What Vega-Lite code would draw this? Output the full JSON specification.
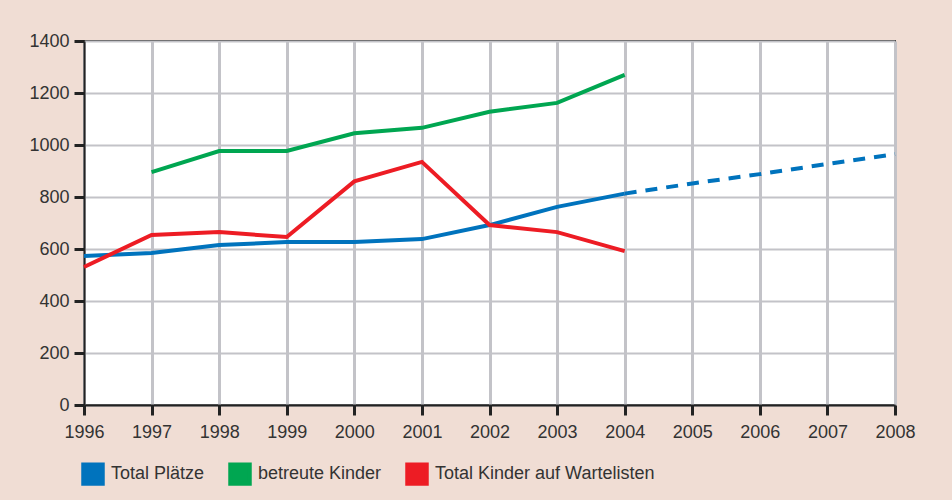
{
  "$schema": "https://vega.github.io/schema/vega-lite/v6.json",
  "width": 811,
  "height": 364,
  "autosize": {"type": "none"},
  "padding": {"left": 84, "top": 41, "right": 57, "bottom": 95},
  "background": "#f0ddd4",
  "view": {"fill": "white", "stroke": "#222222", "strokeWidth": 2},
  "config": {
    "font": "Liberation Sans",
    "axis": {"labelFontSize": 18, "labelColor": "#333333", "domainColor": "#222222", "domainWidth": 2, "tickColor": "#222222", "tickWidth": 3, "tickSize": 10, "gridColor": "#c3c3c8", "labelFlush": false, "labelOverlap": false}
  },
  "datasets": {
    "main": [
      {"year": 1996, "series": "Total Plätze", "value": 573},
      {"year": 1997, "series": "Total Plätze", "value": 585},
      {"year": 1998, "series": "Total Plätze", "value": 615},
      {"year": 1999, "series": "Total Plätze", "value": 627},
      {"year": 2000, "series": "Total Plätze", "value": 627},
      {"year": 2001, "series": "Total Plätze", "value": 638},
      {"year": 2002, "series": "Total Plätze", "value": 692},
      {"year": 2003, "series": "Total Plätze", "value": 762},
      {"year": 2004, "series": "Total Plätze", "value": 813},
      {"year": 1997, "series": "betreute Kinder", "value": 896},
      {"year": 1998, "series": "betreute Kinder", "value": 977},
      {"year": 1999, "series": "betreute Kinder", "value": 977},
      {"year": 2000, "series": "betreute Kinder", "value": 1045},
      {"year": 2001, "series": "betreute Kinder", "value": 1066},
      {"year": 2002, "series": "betreute Kinder", "value": 1128},
      {"year": 2003, "series": "betreute Kinder", "value": 1162},
      {"year": 2004, "series": "betreute Kinder", "value": 1270},
      {"year": 1996, "series": "Total Kinder auf Wartelisten", "value": 531},
      {"year": 1997, "series": "Total Kinder auf Wartelisten", "value": 654},
      {"year": 1998, "series": "Total Kinder auf Wartelisten", "value": 665},
      {"year": 1999, "series": "Total Kinder auf Wartelisten", "value": 646},
      {"year": 2000, "series": "Total Kinder auf Wartelisten", "value": 860},
      {"year": 2001, "series": "Total Kinder auf Wartelisten", "value": 935},
      {"year": 2002, "series": "Total Kinder auf Wartelisten", "value": 692},
      {"year": 2003, "series": "Total Kinder auf Wartelisten", "value": 665},
      {"year": 2004, "series": "Total Kinder auf Wartelisten", "value": 592}
    ],
    "forecast": [
      {"year": 2004, "value": 813},
      {"year": 2005, "value": 852},
      {"year": 2006, "value": 888},
      {"year": 2007, "value": 927},
      {"year": 2008, "value": 965}
    ]
  },
  "layer": [
    {
      "data": {"name": "main"},
      "mark": {"type": "point", "shape": "square", "filled": true, "size": 0, "stroke": "#222222", "strokeWidth": 1.5},
      "encoding": {
        "x": {"field": "year", "type": "quantitative", "scale": {"domain": [1996, 2008], "nice": false, "zero": false},
          "axis": {"values": [1996,1997,1998,1999,2000,2001,2002,2003,2004,2005,2006,2007,2008], "format": "d", "title": null, "gridWidth": 3, "labelPadding": 8, "labelFontSize": 18}},
        "y": {"field": "value", "type": "quantitative", "scale": {"domain": [0, 1400], "nice": false},
          "axis": {"values": [0,200,400,600,800,1000,1200,1400], "format": "d", "title": null, "gridWidth": 2, "labelPadding": 5, "labelFontSize": 18}},
        "color": {
          "field": "series", "type": "nominal",
          "scale": {"domain": ["Total Plätze", "betreute Kinder", "Total Kinder auf Wartelisten"], "range": ["#0073bd", "#00a651", "#ed1c24"]},
          "legend": {
            "title": null, "orient": "none", "direction": "horizontal", "legendX": -3, "legendY": 421,
            "symbolType": "square", "symbolSize": 380, "labelFontSize": 18, "labelColor": "#333333", "columnPadding": 17, "labelOffset": 6, "labelLimit": 400,
            "symbolStrokeColor": "#222222", "symbolStrokeWidth": 1.5, "symbolOpacity": 1,
            "encode": {"symbols": {"update": {"fill": {"scale": "color", "field": "value"}, "stroke": {"value": "#222222"}, "strokeWidth": {"value": 1.5}, "opacity": {"value": 1}}}}
          }
        }
      }
    },
    {
      "data": {"name": "forecast"},
      "mark": {"type": "line", "color": "#0073bd", "strokeWidth": 4, "strokeDash": [12, 9], "strokeCap": "butt"},
      "encoding": {
        "x": {"field": "year", "type": "quantitative"},
        "y": {"field": "value", "type": "quantitative"}
      }
    },
    {
      "data": {"name": "main"},
      "mark": {"type": "line", "strokeCap": "butt", "strokeJoin": "miter"},
      "encoding": {
        "x": {"field": "year", "type": "quantitative"},
        "y": {"field": "value", "type": "quantitative"},
        "color": {"field": "series", "type": "nominal"},
        "strokeWidth": {
          "field": "series", "type": "nominal",
          "scale": {"domain": ["Total Plätze", "betreute Kinder", "Total Kinder auf Wartelisten"], "range": [4, 4, 5.5]},
          "legend": null
        }
      }
    }
  ]
}
